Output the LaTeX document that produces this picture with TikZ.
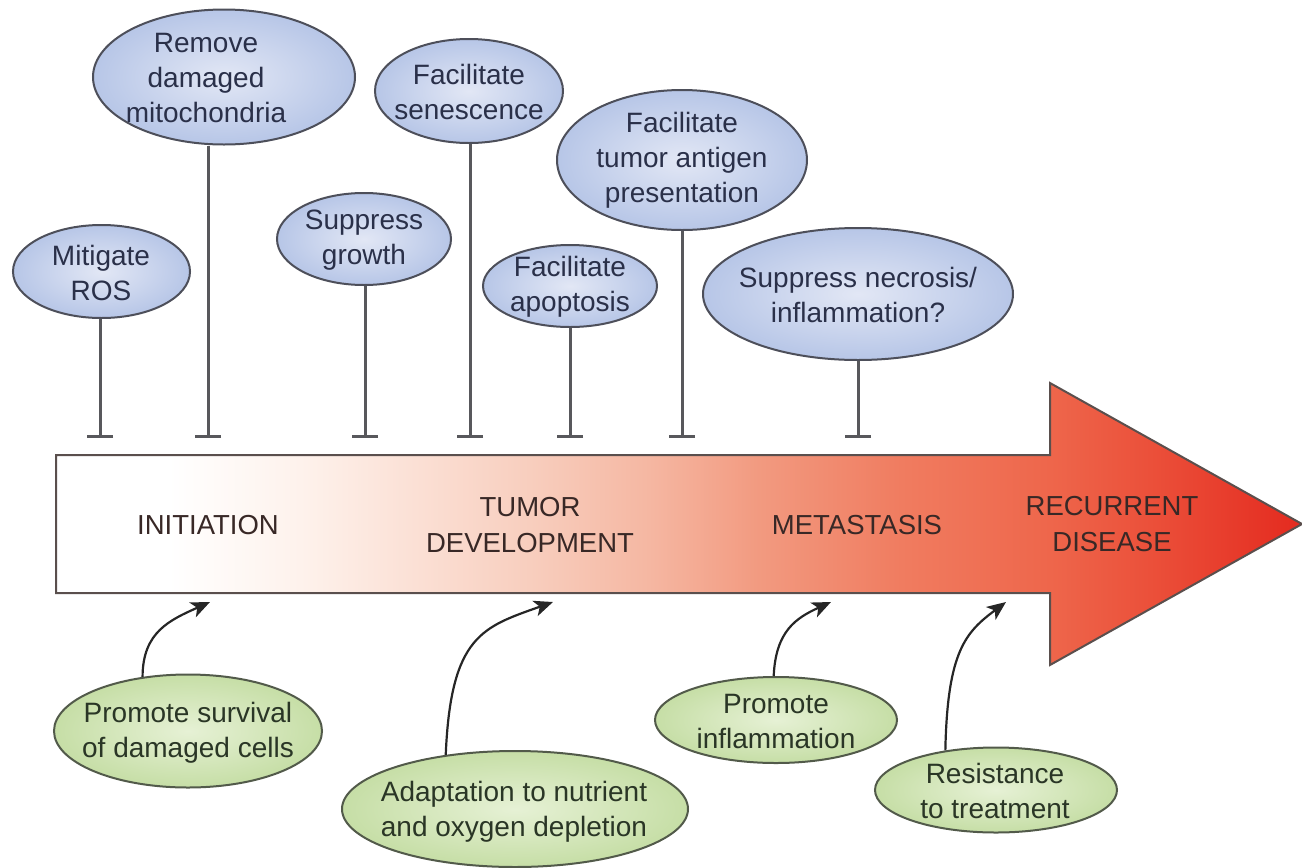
\documentclass[tikz,border=0pt]{standalone}
\usepackage{fontspec}
\setmainfont{Liberation Sans}
\usetikzlibrary{arrows.meta,shapes.geometric}
\definecolor{blueIn}{HTML}{E2E7F5}
\definecolor{blueOut}{HTML}{B7C6E7}
\definecolor{greenIn}{HTML}{E6F1D5}
\definecolor{greenOut}{HTML}{C6DEA6}
\definecolor{ellborder}{HTML}{4D4F5A}
\definecolor{grnborder}{HTML}{525A4A}
\definecolor{bluetxt}{HTML}{2A3049}
\definecolor{greentxt}{HTML}{2A3626}
\definecolor{arrowtxt}{HTML}{382826}
\definecolor{inhgray}{HTML}{58585C}
\definecolor{arrborder}{HTML}{5A4F4D}
\definecolor{sA}{HTML}{FFFFFF}
\definecolor{sB}{HTML}{FEF2EC}
\definecolor{sC}{HTML}{F8CEBE}
\definecolor{sD}{HTML}{F5B7A2}
\definecolor{sE}{HTML}{F29A80}
\definecolor{sF}{HTML}{F07C60}
\definecolor{sG}{HTML}{EE664B}
\definecolor{sH}{HTML}{EB503A}
\definecolor{sI}{HTML}{E42A1F}
\pgfdeclarehorizontalshading{arrowshade}{100bp}{color(0bp)=(sA); color(25bp)=(sA); color(29.5bp)=(sA); color(34.8bp)=(sB); color(44bp)=(sC); color(48.8bp)=(sD); color(53.2bp)=(sE); color(58.9bp)=(sF); color(64.9bp)=(sG); color(68.9bp)=(sH); color(75bp)=(sI); color(100bp)=(sI)}
\tikzset{
  blueell/.style={ellipse, draw=ellborder, line width=2pt, inner color=blueIn, outer color=blueOut, inner sep=0pt},
  greenell/.style={ellipse, draw=grnborder, line width=2pt, inner color=greenIn, outer color=greenOut, inner sep=0pt},
  bluetext/.style={text=bluetxt, align=center, inner sep=0pt, font=\fontsize{28}{35}\selectfont},
  greentext/.style={text=greentxt, align=center, inner sep=0pt, font=\fontsize{28}{35}\selectfont},
  stagetext/.style={text=arrowtxt, align=center, inner sep=0pt, font=\fontsize{27.5}{36}\selectfont},
  inh/.style={draw=inhgray, line width=3pt, -{Bar[width=26pt,line width=3pt]}},
  promo/.style={draw=black!85, line width=2.2pt, -{Stealth[length=19pt,width=16pt,inset=5pt]}}
}
\begin{document}
\begin{tikzpicture}[x=1pt,y=-1pt]
\useasboundingbox (0,0) rectangle (1302,868);
% big arrow
\path[shading=arrowshade, draw=arrborder, line width=2pt, line join=miter]
  (56,455) -- (1050,455) -- (1050,383) -- (1302,524) -- (1050,665) -- (1050,593) -- (56,593) -- cycle;
\node[stagetext] (init) at (208,525) {INITIATION};
\node[stagetext] (tumor) at (530,525) {TUMOR\\DEVELOPMENT};
\node[stagetext] (meta) at (857,525) {METASTASIS};
\node[stagetext] (recur) at (1112,524) {RECURRENT\\DISEASE};
% bar end points
\coordinate (b1) at (100,438);
\coordinate (b2) at (208,438);
\coordinate (b3) at (365,438);
\coordinate (b4) at (470,438);
\coordinate (b5) at (570,438);
\coordinate (b6) at (682,438);
\coordinate (b7) at (858,438);
% blue ellipses
\node[blueell, minimum width=177pt, minimum height=93pt] (ros) at (101.5,271.5) {};
\node[bluetext] (rosT) at (101,273) {Mitigate\\ROS};
\node[blueell, minimum width=262pt, minimum height=135pt] (mito) at (224,77) {};
\node[bluetext] (mitoT) at (206,78) {Remove\\damaged\\mitochondria};
\node[blueell, minimum width=174pt, minimum height=92pt] (supg) at (364,239) {};
\node[bluetext] (supgT) at (364,240) {Suppress\\growth};
\node[blueell, minimum width=188pt, minimum height=104pt] (sen) at (469,91) {};
\node[bluetext] (senT) at (469,92) {Facilitate\\senescence};
\node[blueell, minimum width=250pt, minimum height=140pt] (ant) at (682,160) {};
\node[bluetext] (antT) at (682,160) {Facilitate\\tumor antigen\\presentation};
\node[blueell, minimum width=174pt, minimum height=82pt] (apo) at (570,286) {};
\node[bluetext] (apoT) at (570,287) {Facilitate\\apoptosis};
\node[blueell, minimum width=310pt, minimum height=132pt] (nec) at (858,294) {};
\node[bluetext] (necT) at (858,295) {Suppress necrosis/\\inflammation?};
% inhibition lines
\draw[inh] (b1 |- ros.south) -- (b1);
\draw[inh] (b2 |- mito.south) -- (b2);
\draw[inh] (b3 |- supg.south) -- (b3);
\draw[inh] (b4 |- sen.south) -- (b4);
\draw[inh] (b5 |- apo.south) -- (b5);
\draw[inh] (b6 |- ant.south) -- (b6);
\draw[inh] (b7 |- nec.south) -- (b7);
% green ellipses
\node[greenell, minimum width=268pt, minimum height=113pt] (surv) at (188,731) {};
\node[greentext] (survT) at (188,733) {Promote survival\\of damaged cells};
\node[greenell, minimum width=346pt, minimum height=116pt] (adapt) at (515,809) {};
\node[greentext] (adaptT) at (514,812) {Adaptation to nutrient\\and oxygen depletion};
\node[greenell, minimum width=242pt, minimum height=86pt] (infl) at (776,720) {};
\node[greentext] (inflT) at (776,721) {Promote\\inflammation};
\node[greenell, minimum width=242pt, minimum height=85pt] (res) at (996,790) {};
\node[greentext] (resT) at (995,791) {Resistance\\to treatment};
% arrow targets
\coordinate (a1) at (210,602);
\coordinate (a2) at (553,602);
\coordinate (a3) at (831,602);
\coordinate (a4) at (1006,602);
\draw[promo] (surv.130) .. controls +(0,-45) and +(-40,18) .. (a1);
\draw[promo] (adapt.142) .. controls +(5,-120) and +(-70,25) .. (a2);
\draw[promo] (infl.93) .. controls +(2,-45) and +(-35,16) .. (a3);
\draw[promo] (res.142) .. controls +(2,-100) and +(-40,30) .. (a4);
\end{tikzpicture}
\end{document}
